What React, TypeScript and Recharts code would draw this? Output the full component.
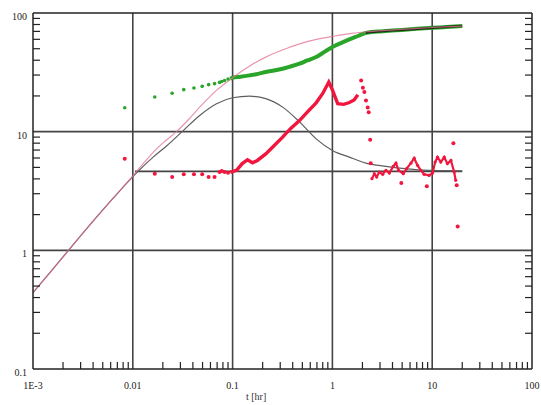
import React from "react";
import { ComposedChart, Line, Scatter, XAxis, YAxis, ReferenceLine } from "recharts";

// log-log diagnostic plot: pressure change and derivative vs elapsed time [hr]
type Pt = [number, number];

const xMajor = [0.001, 0.01, 0.1, 1, 10, 100];
const xLabels = ["1E-3", "0.01", "0.1", "1", "10", "100"];
const yMajor = [0.1, 1, 10, 100];
const yLabels = ["0.1", "1", "10", "100"];

// pressure model (pink)
const pressureModel: Pt[] = [
  [0.001, 0.44], [0.002, 0.88], [0.004, 1.76], [0.00636, 2.75], [0.0098, 4.15],
  [0.013, 5.5], [0.016, 6.7], [0.021, 8.3], [0.0274, 10], [0.036, 12.6],
  [0.0468, 16.1], [0.069, 22.3], [0.1, 28.5], [0.15, 36], [0.215, 42.5],
  [0.32, 49], [0.468, 55], [0.69, 60], [1.0, 63.5], [1.48, 67], [2.2, 69.5],
  [3.5, 71.5], [6, 73.5], [10, 75.5], [20, 77.5],
];

// derivative model (grey)
const derivModel: Pt[] = [
  [0.001, 0.44], [0.002, 0.88], [0.004, 1.76], [0.00636, 2.75], [0.0098, 4.1],
  [0.013, 5.2], [0.016, 6.1], [0.0215, 7.5], [0.0316, 10.1], [0.0468, 13.7],
  [0.069, 17.2], [0.1, 19.3], [0.148, 19.9], [0.215, 19.0], [0.317, 16.1],
  [0.468, 12.1], [0.687, 8.7], [1.0, 6.95], [1.48, 6.1], [2.17, 5.43],
  [3.44, 5.1], [5, 4.9], [8, 4.75], [20, 4.68],
];

// radial flow stabilization level
const stabLevel = 4.63;
const stabFrom = 0.0105;
const stabTo = 20;

// pressure data (green)
const pressureEarly: Pt[] = [
  [0.0083, 15.9], [0.0166, 19.6], [0.0248, 21.1], [0.0324, 22.6], [0.041, 23.3],
  [0.0496, 24.1], [0.0575, 24.9], [0.066, 25.4], [0.074, 26], [0.078, 26.5],
  [0.083, 27], [0.09, 27.8],
];
const pressureDense: Pt[] = [
  [0.095, 28], [0.1, 28.5], [0.12, 29], [0.148, 29.8], [0.18, 30.7], [0.215, 31.8],
  [0.26, 32.8], [0.317, 33.9], [0.38, 35.4], [0.468, 37.4], [0.56, 39.8],
  [0.687, 42.5], [0.8, 46], [0.9, 49], [1.0, 51.6], [1.2, 55.5], [1.48, 60],
  [1.8, 64], [2.17, 68], [2.5, 69.3], [3, 70], [4, 71.2], [5, 72], [7, 73.5],
  [10, 75], [14, 76.3], [20, 77.7],
];

// derivative data (red)
const derivEarly: Pt[] = [
  [0.0083, 5.92], [0.0166, 4.42], [0.0248, 4.15], [0.0324, 4.37], [0.041, 4.37],
  [0.0496, 4.37], [0.0575, 4.15], [0.066, 4.15], [0.074, 4.57], [0.078, 4.67],
  [0.083, 4.57], [0.09, 4.5],
];
const derivRamp: Pt[] = [
  [0.095, 4.55], [0.1, 4.6], [0.11, 4.75], [0.125, 5.38], [0.141, 5.8],
  [0.158, 5.47], [0.177, 5.72], [0.215, 6.5], [0.26, 7.6], [0.317, 9.0],
  [0.38, 10.6], [0.468, 12.4], [0.56, 14.6], [0.687, 17.5], [0.8, 21],
  [0.92, 26.2], [1.0, 22.5], [1.13, 17.2], [1.3, 17.0], [1.48, 17.6],
  [1.65, 18.5], [1.8, 20.5],
];
const derivTail: Pt[] = [
  [1.94, 27], [2.02, 23.5], [2.09, 21.6], [2.17, 18.3], [2.26, 16], [2.31, 14.6],
  [2.39, 8.56], [2.42, 5.43],
];
const derivLate: Pt[] = [
  [2.49, 4.02], [2.63, 4.42], [2.78, 4.15], [2.95, 4.57], [3.19, 4.37],
  [3.44, 4.72], [3.72, 4.48], [4.07, 5.1], [4.33, 5.43], [4.6, 4.72],
  [5.13, 4.42], [5.54, 4.88], [6.12, 5.43], [6.6, 5.98], [7.13, 5.2],
  [7.7, 4.72], [8.3, 4.37], [9.3, 4.28], [10.1, 4.48], [10.7, 5.55],
  [11.3, 6.1], [12.2, 5.55], [13.2, 6.1], [14.2, 5.38], [15.4, 5.72],
  [16.6, 4.57], [17.2, 3.89],
];
const derivOutliers: Pt[] = [
  [4.9, 3.7], [8.83, 3.46], [16.3, 8.0], [17.6, 3.53], [18.0, 1.59],
];

const rows = (pts: Pt[]) => pts.map(([t, v]) => ({ t, v }));

// 1..9 multiples of every decade between lo and hi
function logTicks(lo: number, hi: number) {
  const out: number[] = [];
  for (let e = Math.round(Math.log10(lo)); e < Math.round(Math.log10(hi)); e++) {
    for (let k = 1; k <= 9; k++) out.push(Number((k * Math.pow(10, e)).toPrecision(6)));
  }
  out.push(hi);
  return out;
}
const xTicks = logTicks(0.001, 100);
const yTicks = logTicks(0.1, 100);

const majorIndex = (v: number, majors: number[]) =>
  majors.findIndex((m) => Math.abs(m - v) / m < 1e-6);

const AXIS = "#222";
const GRID = "#444";
const PINK = "#e0708e";
const GREY = "#5e5e5e";
const GREEN = "#2aa52a";
const RED = "#f2163e";
const FONT = "'Liberation Serif', 'DejaVu Serif', serif";
const TICK_LEN = 7;

const XTick = (side: "bottom" | "top") => (p: any) => {
  const i = majorIndex(p.payload.value, xMajor);
  const dir = side === "bottom" ? -1 : 1;
  if (i >= 0) {
    if (side === "top") return <g />;
    return (
      <text x={p.x} y={p.y + 20} textAnchor="middle" fontSize={10} fill="#222" fontFamily={FONT}>
        {xLabels[i]}
      </text>
    );
  }
  return <line x1={p.x} x2={p.x} y1={p.y} y2={p.y + dir * TICK_LEN} stroke={AXIS} strokeWidth={1.2} />;
};

const YTick = (side: "left" | "right") => (p: any) => {
  const i = majorIndex(p.payload.value, yMajor);
  const dir = side === "left" ? 1 : -1;
  if (i >= 0) {
    if (side === "right") return <g />;
    return (
      <text x={p.x - 6} y={p.y + 7} textAnchor="end" fontSize={10} fill="#222" fontFamily={FONT}>
        {yLabels[i]}
      </text>
    );
  }
  return <line x1={p.x} x2={p.x + dir * TICK_LEN} y1={p.y} y2={p.y} stroke={AXIS} strokeWidth={1.2} />;
};

const dot = (color: string, r: number) => (p: any) =>
  <circle cx={p.cx} cy={p.cy} r={r} fill={color} />;

const ax = { xAxisId: "b", yAxisId: "l" } as const;

export default function App() {
  const pressureLate = pressureDense.filter(([t]) => t >= 2.17);
  return (
    <div style={{ position: "absolute", left: 0, top: 0, width: 541, height: 405, background: "#fff" }}>
      <ComposedChart width={541} height={405} margin={{ top: 0, right: 0, bottom: 0, left: 0 }}>
        <XAxis
          xAxisId="b" dataKey="t" type="number" scale="log" domain={[0.001, 100]}
          allowDataOverflow ticks={xTicks} interval={0} tickSize={0} tickMargin={0}
          tickLine={false} tick={XTick("bottom")} height={36}
          axisLine={{ stroke: AXIS, strokeWidth: 1.5 }}
        />
        <XAxis
          xAxisId="t" orientation="top" type="number" scale="log" domain={[0.001, 100]}
          allowDataOverflow ticks={xTicks} interval={0} tickSize={0} tickMargin={0}
          tickLine={false} tick={XTick("top")} height={13}
          axisLine={{ stroke: AXIS, strokeWidth: 1.5 }}
        />
        <YAxis
          yAxisId="l" type="number" scale="log" domain={[0.1, 100]} allowDataOverflow
          ticks={yTicks} interval={0} tickSize={0} tickMargin={0} tickLine={false}
          tick={YTick("left")} width={33} axisLine={{ stroke: AXIS, strokeWidth: 1.5 }}
        />
        <YAxis
          yAxisId="r" orientation="right" type="number" scale="log" domain={[0.1, 100]}
          allowDataOverflow ticks={yTicks} interval={0} tickSize={0} tickMargin={0}
          tickLine={false} tick={YTick("right")} width={9}
          axisLine={{ stroke: AXIS, strokeWidth: 1.5 }}
        />

        {xMajor.slice(1, -1).map((v) => (
          <ReferenceLine key={"x" + v} {...ax} x={v} stroke={GRID} strokeWidth={1.6} />
        ))}
        {yMajor.slice(1, -1).map((v) => (
          <ReferenceLine key={"y" + v} {...ax} y={v} stroke={GRID} strokeWidth={1.6} />
        ))}
        <ReferenceLine
          {...ax}
          segment={[{ x: stabFrom, y: stabLevel }, { x: stabTo, y: stabLevel }]}
          stroke={GRID} strokeWidth={1.6}
        />

        <Line {...ax} data={rows(pressureDense)} dataKey="v" type="monotone" stroke={GREEN}
          strokeWidth={4} dot={false} isAnimationActive={false} />
        <Line {...ax} data={rows(pressureLate)} dataKey="v" type="monotone" stroke="#1b2a12"
          strokeWidth={2.2} dot={false} isAnimationActive={false} />
        <Scatter {...ax} data={rows(pressureEarly)} dataKey="v" shape={dot(GREEN, 1.8)}
          isAnimationActive={false} />

        <Line {...ax} data={rows(derivModel)} dataKey="v" type="monotone" stroke={GREY}
          strokeWidth={1.2} dot={false} isAnimationActive={false} />
        <Line {...ax} data={rows(pressureModel)} dataKey="v" type="monotone" stroke={PINK}
          strokeWidth={1.2} strokeOpacity={0.75} dot={false} isAnimationActive={false} />

        <Line {...ax} data={rows(derivRamp)} dataKey="v" type="linear" stroke={RED}
          strokeWidth={3.4} dot={false} isAnimationActive={false} />
        <Line {...ax} data={rows(derivLate)} dataKey="v" type="linear" stroke={RED}
          strokeWidth={2.2} dot={dot(RED, 1.6)} isAnimationActive={false} />
        <Scatter {...ax} data={rows(derivEarly)} dataKey="v" shape={dot(RED, 2)}
          isAnimationActive={false} />
        <Scatter {...ax} data={rows(derivTail)} dataKey="v" shape={dot(RED, 2)}
          isAnimationActive={false} />
        <Scatter {...ax} data={rows(derivOutliers)} dataKey="v" shape={dot(RED, 2)}
          isAnimationActive={false} />
      </ComposedChart>
      <div style={{ position: "absolute", left: 246, top: 391, fontSize: 10, lineHeight: "12px", fontFamily: FONT, color: "#333" }}>
        t [hr]
      </div>
    </div>
  );
}
